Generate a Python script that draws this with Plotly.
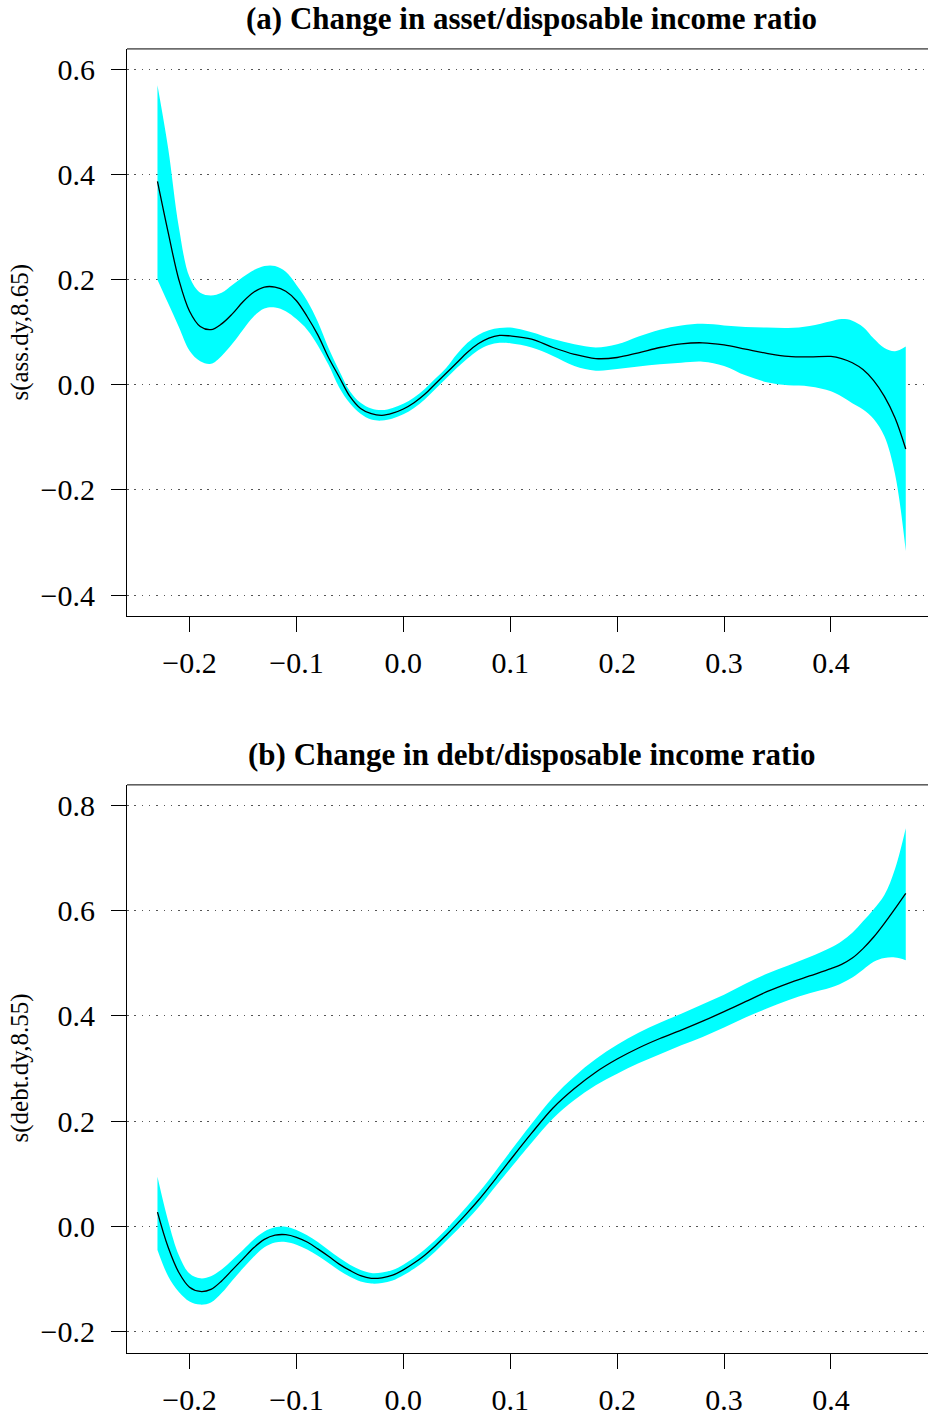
import plotly.graph_objects as go

# ---------------- data ----------------
x_grid = [-0.23, -0.22, -0.21, -0.20, -0.19, -0.18, -0.17, -0.16, -0.15, -0.14, -0.13, -0.12,
          -0.11, -0.10, -0.09, -0.08, -0.07, -0.06, -0.05, -0.04, -0.03, -0.02, -0.01, 0.0,
          0.01, 0.02, 0.03, 0.04, 0.05, 0.06, 0.07, 0.08, 0.09, 0.10, 0.12, 0.14, 0.16, 0.18,
          0.20, 0.22, 0.24, 0.26, 0.28, 0.30, 0.32, 0.34, 0.36, 0.38, 0.40, 0.41, 0.42, 0.43,
          0.44, 0.45, 0.46, 0.47]

# (a) asset / disposable income
fit_a = [0.387, 0.29, 0.20, 0.14, 0.111, 0.105, 0.116, 0.135, 0.158, 0.176, 0.186, 0.186,
         0.178, 0.16, 0.13, 0.095, 0.052, 0.015, -0.022, -0.045, -0.055, -0.058, -0.054, -0.046,
         -0.034, -0.018, 0.002, 0.022, 0.042, 0.062, 0.078, 0.089, 0.094, 0.093, 0.087, 0.071, 0.058, 0.05,
         0.052, 0.061, 0.071, 0.078, 0.080, 0.076, 0.068, 0.060, 0.054, 0.053, 0.054, 0.050, 0.042, 0.029,
         0.008, -0.022, -0.063, -0.122]
upper_a = [0.570, 0.45, 0.30, 0.205, 0.175, 0.170, 0.175, 0.19, 0.205, 0.218, 0.226, 0.226,
           0.215, 0.19, 0.16, 0.12, 0.07, 0.027, -0.012, -0.034, -0.045, -0.048, -0.044, -0.036,
           -0.024, -0.008, 0.012, 0.032, 0.058, 0.08, 0.095, 0.104, 0.108, 0.109, 0.10, 0.087, 0.077, 0.071,
           0.077, 0.092, 0.105, 0.113, 0.116, 0.113, 0.110, 0.109, 0.108, 0.112, 0.121, 0.125, 0.122, 0.11,
           0.088, 0.07, 0.064, 0.073]
lower_a = [0.2, 0.155, 0.11, 0.065, 0.045, 0.04, 0.055, 0.078, 0.105, 0.13, 0.145, 0.147,
           0.14, 0.125, 0.105, 0.075, 0.038, -0.005, -0.035, -0.055, -0.066, -0.068, -0.064, -0.056,
           -0.044, -0.028, -0.008, 0.012, 0.032, 0.05, 0.066, 0.076, 0.08, 0.079, 0.071, 0.055, 0.036, 0.027,
           0.03, 0.035, 0.039, 0.042, 0.044, 0.036, 0.018, 0.005, -0.001, -0.003, -0.012, -0.022, -0.035, -0.047,
           -0.065, -0.098, -0.17, -0.316]

# (b) debt / disposable income
fit_b = [0.027, -0.04, -0.088, -0.116, -0.124, -0.12, -0.104, -0.083, -0.062, -0.041, -0.025, -0.017,
         -0.016, -0.021, -0.03, -0.043, -0.057, -0.072, -0.084, -0.094, -0.099, -0.098, -0.093, -0.083,
         -0.070, -0.055, -0.037, -0.017, 0.004, 0.026, 0.049, 0.074, 0.1, 0.126, 0.177, 0.225, 0.262, 0.293,
         0.318, 0.339, 0.357, 0.373, 0.39, 0.408, 0.427, 0.446, 0.462, 0.476, 0.49, 0.498, 0.51, 0.528,
         0.55, 0.576, 0.604, 0.633]
upper_b = [0.094, 0.01, -0.055, -0.09, -0.099, -0.095, -0.082, -0.064, -0.045, -0.025, -0.01, -0.002,
           -0.001, -0.007, -0.017, -0.03, -0.045, -0.06, -0.073, -0.083, -0.089, -0.088, -0.083, -0.073,
           -0.06, -0.044, -0.026, -0.006, 0.016, 0.039, 0.063, 0.088, 0.115, 0.142, 0.195, 0.245, 0.285, 0.318,
           0.345, 0.368, 0.387, 0.404, 0.422, 0.44, 0.461, 0.48, 0.496, 0.512, 0.53, 0.542, 0.558, 0.58,
           0.603, 0.63, 0.68, 0.757]
lower_b = [-0.045, -0.095, -0.125, -0.143, -0.149, -0.145, -0.127, -0.103, -0.08, -0.058, -0.04, -0.031,
           -0.03, -0.035, -0.044, -0.056, -0.07, -0.084, -0.096, -0.105, -0.109, -0.108, -0.103, -0.093,
           -0.081, -0.066, -0.048, -0.028, -0.008, 0.013, 0.035, 0.06, 0.085, 0.11, 0.159, 0.205, 0.24, 0.268,
           0.29, 0.31, 0.327, 0.344, 0.36, 0.378, 0.397, 0.414, 0.43, 0.443, 0.454, 0.462, 0.473, 0.488,
           0.503, 0.51, 0.511, 0.506]

x_ticks = [-0.2, -0.1, 0.0, 0.1, 0.2, 0.3, 0.4]
x_tick_labels = ["\u22120.2", "\u22120.1", "0.0", "0.1", "0.2", "0.3", "0.4"]
ya_ticks = [-0.4, -0.2, 0.0, 0.2, 0.4, 0.6]
ya_tick_labels = ["\u22120.4", "\u22120.2", "0.0", "0.2", "0.4", "0.6"]
yb_ticks = [-0.2, 0.0, 0.2, 0.4, 0.6, 0.8]
yb_tick_labels = ["\u22120.2", "0.0", "0.2", "0.4", "0.6", "0.8"]

title_a = "(a) Change in asset/disposable income ratio"
title_b = "(b) Change in debt/disposable income ratio"
ylab_a = "s(ass.dy,8.65)"
ylab_b = "s(debt.dy,8.55)"

# ---------------- figure ----------------
W, H = 928, 1416
FONT = "Liberation Serif, Times New Roman, serif"
CYAN = "#00FFFF"

fig = go.Figure()

panels = [
    ("x", "y", fit_a, upper_a, lower_a),
    ("x2", "y2", fit_b, upper_b, lower_b),
]
for xr, yr, fit, up, lo in panels:
    fig.add_trace(go.Scatter(x=x_grid, y=up, xaxis=xr, yaxis=yr, mode="lines",
                             line=dict(width=0, color=CYAN, shape="spline"),
                             hoverinfo="skip", showlegend=False))
    fig.add_trace(go.Scatter(x=x_grid, y=lo, xaxis=xr, yaxis=yr, mode="lines",
                             line=dict(width=0, color=CYAN, shape="spline"),
                             fill="tonexty", fillcolor=CYAN,
                             hoverinfo="skip", showlegend=False))
    fig.add_trace(go.Scatter(x=x_grid, y=fit, xaxis=xr, yaxis=yr, mode="lines",
                             line=dict(width=1.3, color="black", shape="spline"),
                             hoverinfo="skip", showlegend=False))

left = 127 / W
xrange_ = [-0.2585, 0.4908]
tickfont = dict(family=FONT, size=30, color="black")

def px_y(p):
    return 1 - p / H

common_x = dict(range=xrange_, showline=True, linecolor="black", linewidth=1,
                ticks="outside", ticklen=15, tickwidth=1, tickcolor="black",
                tickvals=x_ticks, ticktext=x_tick_labels, tickfont=tickfont,
                showgrid=False, zeroline=False, domain=[left, 1.0],
                ticklabelstandoff=5)
common_y = dict(showline=True, linecolor="black", linewidth=1,
                ticks="outside", ticklen=15, tickwidth=1, tickcolor="black",
                tickfont=tickfont, showgrid=True, gridcolor="#555555",
                griddash="1.5px,5.8px", gridwidth=1, zeroline=False,
                ticklabelstandoff=10)

fig.update_layout(
    width=W, height=H, autosize=False,
    margin=dict(l=0, r=0, t=0, b=0),
    paper_bgcolor="white", plot_bgcolor="white",
    xaxis=dict(common_x, anchor="y"),
    yaxis=dict(common_y, anchor="x", range=[-0.44, 0.639],
               tickvals=ya_ticks, ticktext=ya_tick_labels,
               domain=[px_y(617), px_y(49)]),
    xaxis2=dict(common_x, anchor="y2"),
    yaxis2=dict(common_y, anchor="x2", range=[-0.2406, 0.8393],
                tickvals=yb_ticks, ticktext=yb_tick_labels,
                domain=[px_y(1354.7), px_y(786)]),
)

# top borders
for yd in ["y domain", "y2 domain"]:
    xd = "x domain" if yd == "y domain" else "x2 domain"
    fig.add_shape(type="line", xref=xd, yref=yd, x0=0, x1=1, y0=1, y1=1,
                  line=dict(color="black", width=1))

cx = (127 + 936) / 2 / W
fig.add_annotation(text="<b>" + title_a + "</b>", x=cx, y=px_y(19), xref="paper", yref="paper",
                   showarrow=False, xanchor="center", yanchor="middle",
                   font=dict(family=FONT, size=31, color="black"))
fig.add_annotation(text="<b>" + title_b + "</b>", x=cx, y=px_y(756), xref="paper", yref="paper",
                   showarrow=False, xanchor="center", yanchor="middle",
                   font=dict(family=FONT, size=31, color="black"))
fig.add_annotation(text=ylab_a, x=20 / W, y=px_y(333), xref="paper", yref="paper",
                   showarrow=False, xanchor="center", yanchor="middle", textangle=-90,
                   font=dict(family=FONT, size=25, color="black"))
fig.add_annotation(text=ylab_b, x=20 / W, y=px_y(1070), xref="paper", yref="paper",
                   showarrow=False, xanchor="center", yanchor="middle", textangle=-90,
                   font=dict(family=FONT, size=25, color="black"))

fig.write_html("out.html", config={"displayModeBar": False},
               post_script="document.body.style.margin='0';document.body.style.overflow='hidden';")
